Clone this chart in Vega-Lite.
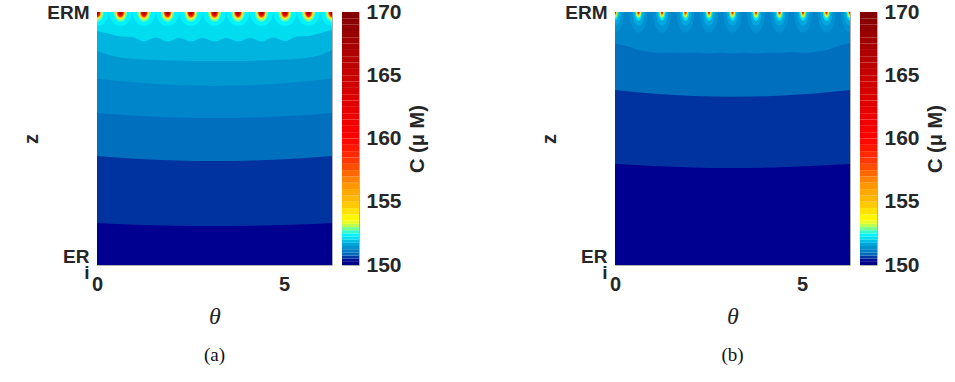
{
  "$schema": "https://vega.github.io/schema/vega-lite/v6.json",
  "background": "white",
  "padding": {"left": 21, "top": 0, "right": 5, "bottom": 5},
  "config": {
    "view": {"stroke": null},
    "font": "Liberation Sans",
    "axis": {"labelColor": "#262626", "titleColor": "#262626", "grid": false, "domain": false, "ticks": false, "tickSize": 0}
  },
  "datasets": {
    "bands": [
      {"panel": "a", "band": 1, "c": 150.3, "theta": 0, "lo": 0},
      {"panel": "a", "band": 1, "c": 150.3, "theta": 6.2832, "lo": 0},
      {"panel": "a", "band": 2, "c": 150.6, "theta": 0, "lo": 0.166},
      {"panel": "a", "band": 2, "c": 150.6, "theta": 1.0472, "lo": 0.159},
      {"panel": "a", "band": 2, "c": 150.6, "theta": 2.0944, "lo": 0.155},
      {"panel": "a", "band": 2, "c": 150.6, "theta": 3.1416, "lo": 0.154},
      {"panel": "a", "band": 2, "c": 150.6, "theta": 4.1888, "lo": 0.155},
      {"panel": "a", "band": 2, "c": 150.6, "theta": 5.236, "lo": 0.159},
      {"panel": "a", "band": 2, "c": 150.6, "theta": 6.2832, "lo": 0.166},
      {"panel": "a", "band": 3, "c": 150.9, "theta": 0, "lo": 0.431},
      {"panel": "a", "band": 3, "c": 150.9, "theta": 1.0472, "lo": 0.42},
      {"panel": "a", "band": 3, "c": 150.9, "theta": 2.0944, "lo": 0.413},
      {"panel": "a", "band": 3, "c": 150.9, "theta": 3.1416, "lo": 0.411},
      {"panel": "a", "band": 3, "c": 150.9, "theta": 4.1888, "lo": 0.413},
      {"panel": "a", "band": 3, "c": 150.9, "theta": 5.236, "lo": 0.42},
      {"panel": "a", "band": 3, "c": 150.9, "theta": 6.2832, "lo": 0.431},
      {"panel": "a", "band": 4, "c": 151.2, "theta": 0, "lo": 0.601},
      {"panel": "a", "band": 4, "c": 151.2, "theta": 1.0472, "lo": 0.59},
      {"panel": "a", "band": 4, "c": 151.2, "theta": 2.0944, "lo": 0.583},
      {"panel": "a", "band": 4, "c": 151.2, "theta": 3.1416, "lo": 0.581},
      {"panel": "a", "band": 4, "c": 151.2, "theta": 4.1888, "lo": 0.583},
      {"panel": "a", "band": 4, "c": 151.2, "theta": 5.236, "lo": 0.59},
      {"panel": "a", "band": 4, "c": 151.2, "theta": 6.2832, "lo": 0.601},
      {"panel": "a", "band": 5, "c": 151.5, "theta": 0, "lo": 0.737},
      {"panel": "a", "band": 5, "c": 151.5, "theta": 1.0472, "lo": 0.721},
      {"panel": "a", "band": 5, "c": 151.5, "theta": 2.0944, "lo": 0.711},
      {"panel": "a", "band": 5, "c": 151.5, "theta": 3.1416, "lo": 0.708},
      {"panel": "a", "band": 5, "c": 151.5, "theta": 4.1888, "lo": 0.711},
      {"panel": "a", "band": 5, "c": 151.5, "theta": 5.236, "lo": 0.721},
      {"panel": "a", "band": 5, "c": 151.5, "theta": 6.2832, "lo": 0.737},
      {"panel": "a", "band": 6, "c": 151.8, "theta": 0, "lo": 0.846},
      {"panel": "a", "band": 6, "c": 151.8, "theta": 0.3142, "lo": 0.83},
      {"panel": "a", "band": 6, "c": 151.8, "theta": 0.6283, "lo": 0.82},
      {"panel": "a", "band": 6, "c": 151.8, "theta": 1.2566, "lo": 0.812},
      {"panel": "a", "band": 6, "c": 151.8, "theta": 1.885, "lo": 0.808},
      {"panel": "a", "band": 6, "c": 151.8, "theta": 2.5133, "lo": 0.806},
      {"panel": "a", "band": 6, "c": 151.8, "theta": 3.1416, "lo": 0.806},
      {"panel": "a", "band": 6, "c": 151.8, "theta": 3.7699, "lo": 0.806},
      {"panel": "a", "band": 6, "c": 151.8, "theta": 4.3982, "lo": 0.808},
      {"panel": "a", "band": 6, "c": 151.8, "theta": 5.0265, "lo": 0.812},
      {"panel": "a", "band": 6, "c": 151.8, "theta": 5.6549, "lo": 0.82},
      {"panel": "a", "band": 6, "c": 151.8, "theta": 5.969, "lo": 0.83},
      {"panel": "a", "band": 6, "c": 151.8, "theta": 6.2832, "lo": 0.85},
      {"panel": "a", "band": 7, "c": 152.1, "theta": 0, "lo": 0.925},
      {"panel": "a", "band": 7, "c": 152.1, "theta": 0.3142, "lo": 0.915},
      {"panel": "a", "band": 7, "c": 152.1, "theta": 0.6283, "lo": 0.903},
      {"panel": "a", "band": 7, "c": 152.1, "theta": 0.9425, "lo": 0.901},
      {"panel": "a", "band": 7, "c": 152.1, "theta": 1.2566, "lo": 0.884},
      {"panel": "a", "band": 7, "c": 152.1, "theta": 1.5708, "lo": 0.899},
      {"panel": "a", "band": 7, "c": 152.1, "theta": 1.885, "lo": 0.883},
      {"panel": "a", "band": 7, "c": 152.1, "theta": 2.1991, "lo": 0.897},
      {"panel": "a", "band": 7, "c": 152.1, "theta": 2.5133, "lo": 0.883},
      {"panel": "a", "band": 7, "c": 152.1, "theta": 2.8274, "lo": 0.897},
      {"panel": "a", "band": 7, "c": 152.1, "theta": 3.1416, "lo": 0.883},
      {"panel": "a", "band": 7, "c": 152.1, "theta": 3.4558, "lo": 0.897},
      {"panel": "a", "band": 7, "c": 152.1, "theta": 3.7699, "lo": 0.883},
      {"panel": "a", "band": 7, "c": 152.1, "theta": 4.0841, "lo": 0.897},
      {"panel": "a", "band": 7, "c": 152.1, "theta": 4.3982, "lo": 0.883},
      {"panel": "a", "band": 7, "c": 152.1, "theta": 4.7124, "lo": 0.899},
      {"panel": "a", "band": 7, "c": 152.1, "theta": 5.0265, "lo": 0.885},
      {"panel": "a", "band": 7, "c": 152.1, "theta": 5.3407, "lo": 0.903},
      {"panel": "a", "band": 7, "c": 152.1, "theta": 5.6549, "lo": 0.905},
      {"panel": "a", "band": 7, "c": 152.1, "theta": 5.969, "lo": 0.917},
      {"panel": "a", "band": 7, "c": 152.1, "theta": 6.2832, "lo": 0.929},
      {"panel": "b", "band": 1, "c": 150.3, "theta": 0, "lo": 0},
      {"panel": "b", "band": 1, "c": 150.3, "theta": 6.2832, "lo": 0},
      {"panel": "b", "band": 2, "c": 150.6, "theta": 0, "lo": 0.399},
      {"panel": "b", "band": 2, "c": 150.6, "theta": 1.0472, "lo": 0.391},
      {"panel": "b", "band": 2, "c": 150.6, "theta": 2.0944, "lo": 0.385},
      {"panel": "b", "band": 2, "c": 150.6, "theta": 3.1416, "lo": 0.383},
      {"panel": "b", "band": 2, "c": 150.6, "theta": 4.1888, "lo": 0.385},
      {"panel": "b", "band": 2, "c": 150.6, "theta": 5.236, "lo": 0.391},
      {"panel": "b", "band": 2, "c": 150.6, "theta": 6.2832, "lo": 0.399},
      {"panel": "b", "band": 3, "c": 150.9, "theta": 0, "lo": 0.692},
      {"panel": "b", "band": 3, "c": 150.9, "theta": 1.0472, "lo": 0.677},
      {"panel": "b", "band": 3, "c": 150.9, "theta": 2.0944, "lo": 0.668},
      {"panel": "b", "band": 3, "c": 150.9, "theta": 3.1416, "lo": 0.665},
      {"panel": "b", "band": 3, "c": 150.9, "theta": 4.1888, "lo": 0.668},
      {"panel": "b", "band": 3, "c": 150.9, "theta": 5.236, "lo": 0.677},
      {"panel": "b", "band": 3, "c": 150.9, "theta": 6.2832, "lo": 0.692},
      {"panel": "b", "band": 4, "c": 151.2, "theta": 0, "lo": 0.875},
      {"panel": "b", "band": 4, "c": 151.2, "theta": 0.3142, "lo": 0.866},
      {"panel": "b", "band": 4, "c": 151.2, "theta": 0.6283, "lo": 0.85},
      {"panel": "b", "band": 4, "c": 151.2, "theta": 0.9425, "lo": 0.842},
      {"panel": "b", "band": 4, "c": 151.2, "theta": 1.2566, "lo": 0.838},
      {"panel": "b", "band": 4, "c": 151.2, "theta": 1.5708, "lo": 0.84},
      {"panel": "b", "band": 4, "c": 151.2, "theta": 1.885, "lo": 0.838},
      {"panel": "b", "band": 4, "c": 151.2, "theta": 2.1991, "lo": 0.84},
      {"panel": "b", "band": 4, "c": 151.2, "theta": 2.5133, "lo": 0.836},
      {"panel": "b", "band": 4, "c": 151.2, "theta": 2.8274, "lo": 0.84},
      {"panel": "b", "band": 4, "c": 151.2, "theta": 3.1416, "lo": 0.836},
      {"panel": "b", "band": 4, "c": 151.2, "theta": 3.4558, "lo": 0.84},
      {"panel": "b", "band": 4, "c": 151.2, "theta": 3.7699, "lo": 0.836},
      {"panel": "b", "band": 4, "c": 151.2, "theta": 4.0841, "lo": 0.84},
      {"panel": "b", "band": 4, "c": 151.2, "theta": 4.3982, "lo": 0.838},
      {"panel": "b", "band": 4, "c": 151.2, "theta": 4.7124, "lo": 0.842},
      {"panel": "b", "band": 4, "c": 151.2, "theta": 5.0265, "lo": 0.838},
      {"panel": "b", "band": 4, "c": 151.2, "theta": 5.3407, "lo": 0.842},
      {"panel": "b", "band": 4, "c": 151.2, "theta": 5.6549, "lo": 0.85},
      {"panel": "b", "band": 4, "c": 151.2, "theta": 5.969, "lo": 0.866},
      {"panel": "b", "band": 4, "c": 151.2, "theta": 6.2832, "lo": 0.877}
    ],
    "spots": [
      {"panel": "a", "theta": 0, "z": 1}, {"panel": "a", "theta": 0.6283, "z": 1}, {"panel": "a", "theta": 1.2566, "z": 1},
      {"panel": "a", "theta": 1.885, "z": 1}, {"panel": "a", "theta": 2.5133, "z": 1}, {"panel": "a", "theta": 3.1416, "z": 1},
      {"panel": "a", "theta": 3.7699, "z": 1}, {"panel": "a", "theta": 4.3982, "z": 1}, {"panel": "a", "theta": 5.0265, "z": 1},
      {"panel": "a", "theta": 5.6549, "z": 1}, {"panel": "a", "theta": 6.2832, "z": 1},
      {"panel": "b", "theta": 0, "z": 1}, {"panel": "b", "theta": 0.6283, "z": 1}, {"panel": "b", "theta": 1.2566, "z": 1},
      {"panel": "b", "theta": 1.885, "z": 1}, {"panel": "b", "theta": 2.5133, "z": 1}, {"panel": "b", "theta": 3.1416, "z": 1},
      {"panel": "b", "theta": 3.7699, "z": 1}, {"panel": "b", "theta": 4.3982, "z": 1}, {"panel": "b", "theta": 5.0265, "z": 1},
      {"panel": "b", "theta": 5.6549, "z": 1}, {"panel": "b", "theta": 6.2832, "z": 1}
    ],
    "cbar": [
      {"lo": 150, "hi": 150.25, "c": 150.125}, {"lo": 150.25, "hi": 150.5, "c": 150.375},
      {"lo": 150.5, "hi": 150.75, "c": 150.625}, {"lo": 150.75, "hi": 151, "c": 150.875},
      {"lo": 151, "hi": 151.25, "c": 151.125}, {"lo": 151.25, "hi": 151.5, "c": 151.375},
      {"lo": 151.5, "hi": 151.75, "c": 151.625}, {"lo": 151.75, "hi": 152, "c": 151.875},
      {"lo": 152, "hi": 152.25, "c": 152.125}, {"lo": 152.25, "hi": 152.5, "c": 152.375},
      {"lo": 152.5, "hi": 152.75, "c": 152.625}, {"lo": 152.75, "hi": 153, "c": 152.875},
      {"lo": 153, "hi": 153.25, "c": 153.125}, {"lo": 153.25, "hi": 153.5, "c": 153.375},
      {"lo": 153.5, "hi": 154, "c": 153.75}, {"lo": 154, "hi": 154.5, "c": 154.25},
      {"lo": 154.5, "hi": 155, "c": 154.75}, {"lo": 155, "hi": 155.5, "c": 155.25},
      {"lo": 155.5, "hi": 156, "c": 155.75}, {"lo": 156, "hi": 156.5, "c": 156.25},
      {"lo": 156.5, "hi": 157, "c": 156.75}, {"lo": 157, "hi": 157.5, "c": 157.25},
      {"lo": 157.5, "hi": 158, "c": 157.75}, {"lo": 158, "hi": 158.5, "c": 158.25},
      {"lo": 158.5, "hi": 159, "c": 158.75}, {"lo": 159, "hi": 159.5, "c": 159.25},
      {"lo": 159.5, "hi": 160, "c": 159.75}, {"lo": 160, "hi": 160.5, "c": 160.25},
      {"lo": 160.5, "hi": 161, "c": 160.75}, {"lo": 161, "hi": 161.5, "c": 161.25},
      {"lo": 161.5, "hi": 162, "c": 161.75}, {"lo": 162, "hi": 162.5, "c": 162.25},
      {"lo": 162.5, "hi": 163, "c": 162.75}, {"lo": 163, "hi": 163.5, "c": 163.25},
      {"lo": 163.5, "hi": 164, "c": 163.75}, {"lo": 164, "hi": 164.5, "c": 164.25},
      {"lo": 164.5, "hi": 165, "c": 164.75}, {"lo": 165, "hi": 165.5, "c": 165.25},
      {"lo": 165.5, "hi": 166, "c": 165.75}, {"lo": 166, "hi": 166.5, "c": 166.25},
      {"lo": 166.5, "hi": 167, "c": 166.75}, {"lo": 167, "hi": 167.5, "c": 167.25},
      {"lo": 167.5, "hi": 168, "c": 167.75}, {"lo": 168, "hi": 168.5, "c": 168.25},
      {"lo": 168.5, "hi": 169, "c": 168.75}, {"lo": 169, "hi": 169.5, "c": 169.25},
      {"lo": 169.5, "hi": 170, "c": 169.75}
    ]
  },
  "hconcat": [
    {
      "hconcat": [
        {
          "width": 235, "height": 253,
          "view": {"stroke": "#B0B0B0", "strokeWidth": 1},
          "title": {"text": "(a)", "orient": "bottom", "anchor": "middle", "font": "Liberation Serif", "fontSize": 19, "fontWeight": "normal", "color": "#111111", "offset": 18},
          "layer": [
            {
              "data": {"name": "bands"},
              "transform": [{"filter": "datum.panel == 'a'"}],
              "mark": {"type": "area", "interpolate": "monotone", "clip": true, "opacity": 1},
              "encoding": {
                "x": {"field": "theta", "type": "quantitative", "scale": {"domain": [0, 6.2832], "nice": false, "zero": false},
                  "axis": {"values": [0, 5], "title": "θ", "titleFont": "Liberation Serif", "titleFontStyle": "italic", "titleFontWeight": "normal", "titleFontSize": 24, "labelFont": "Liberation Sans", "labelFontWeight": "bold", "labelFontSize": 20, "labelPadding": 9, "titlePadding": 10, "labelFlush": false, "labelOverlap": false}},
                "y": {"field": "lo", "type": "quantitative", "stack": null, "scale": {"domain": [0, 1], "nice": false, "zero": false},
                  "axis": {"values": [0, 1], "labelExpr": "datum.value == 1 ? 'ERM' : ['ER\u00a0', 'i']", "labelLineHeight": 16, "labelOffset": {"condition": {"test": "datum.value == 0", "value": -9}, "value": 0}, "title": "z", "titleFontWeight": "bold", "titleFontSize": 20, "labelFont": "Liberation Sans", "labelFontWeight": "bold", "labelFontSize": 19, "labelPadding": 8, "titlePadding": 5, "labelFlush": false, "labelOverlap": false, "labelBound": false}},
                "y2": {"datum": 1},
                "detail": {"field": "band"},
                "color": {"field": "c", "type": "quantitative", "legend": null,
                  "scale": {"type": "linear", "clamp": true, "interpolate": "rgb",
                    "domain": [150, 150.3, 150.6, 150.9, 151.2, 151.5, 151.8, 152.1, 152.4, 152.8, 153.2, 153.6, 155, 156.5, 158, 160, 165, 170],
                    "range": ["#000080", "#000090", "#0033A0", "#0070BE", "#0084CA", "#0098D0", "#00B4E0", "#00DDF0", "#00F4FF", "#60FFA0", "#D0FF40", "#FFFF00", "#FFC000", "#FF9000", "#FF4000", "#FF0000", "#C80000", "#800000"]}}
              }
            },
            {
              "data": {"name": "spots"}, "transform": [{"filter": "datum.panel == 'a'"}],
              "mark": {"type": "point", "shape": "M0,-1.2C0.552,-1.2 1,-0.663 1,0C1,0.663 0.552,1.2 0,1.2C-0.552,1.2 -1,0.663 -1,0C-1,-0.663 -0.552,-1.2 0,-1.2Z", "size": 529, "filled": true, "opacity": 1, "strokeWidth": 0, "color": "#00F4FF", "clip": true},
              "encoding": {"x": {"field": "theta", "type": "quantitative"}, "y": {"field": "z", "type": "quantitative"}}
            },
            {
              "data": {"name": "spots"}, "transform": [{"filter": "datum.panel == 'a'"}],
              "mark": {"type": "point", "shape": "M0,-1.5C0.552,-1.5 1,-0.828 1,0C1,0.828 0.552,1.5 0,1.5C-0.552,1.5 -1,0.828 -1,0C-1,-0.828 -0.552,-1.5 0,-1.5Z", "size": 169, "filled": true, "opacity": 1, "strokeWidth": 0, "color": "#70FFA0", "clip": true},
              "encoding": {"x": {"field": "theta", "type": "quantitative"}, "y": {"field": "z", "type": "quantitative"}}
            },
            {
              "data": {"name": "spots"}, "transform": [{"filter": "datum.panel == 'a'"}],
              "mark": {"type": "point", "shape": "M0,-1.5C0.552,-1.5 1,-0.828 1,0C1,0.828 0.552,1.5 0,1.5C-0.552,1.5 -1,0.828 -1,0C-1,-0.828 -0.552,-1.5 0,-1.5Z", "size": 100, "filled": true, "opacity": 1, "strokeWidth": 0, "color": "#FFF020", "clip": true},
              "encoding": {"x": {"field": "theta", "type": "quantitative"}, "y": {"field": "z", "type": "quantitative"}}
            },
            {
              "data": {"name": "spots"}, "transform": [{"filter": "datum.panel == 'a'"}],
              "mark": {"type": "point", "shape": "M0,-1.5C0.552,-1.5 1,-0.828 1,0C1,0.828 0.552,1.5 0,1.5C-0.552,1.5 -1,0.828 -1,0C-1,-0.828 -0.552,-1.5 0,-1.5Z", "size": 64, "filled": true, "opacity": 1, "strokeWidth": 0, "color": "#FF9000", "clip": true},
              "encoding": {"x": {"field": "theta", "type": "quantitative"}, "y": {"field": "z", "type": "quantitative"}}
            },
            {
              "data": {"name": "spots"}, "transform": [{"filter": "datum.panel == 'a'"}],
              "mark": {"type": "point", "shape": "M0,-1.5C0.552,-1.5 1,-0.828 1,0C1,0.828 0.552,1.5 0,1.5C-0.552,1.5 -1,0.828 -1,0C-1,-0.828 -0.552,-1.5 0,-1.5Z", "size": 41, "filled": true, "opacity": 1, "strokeWidth": 0, "color": "#F01000", "clip": true},
              "encoding": {"x": {"field": "theta", "type": "quantitative"}, "y": {"field": "z", "type": "quantitative"}}
            },
            {
              "data": {"name": "spots"}, "transform": [{"filter": "datum.panel == 'a'"}],
              "mark": {"type": "point", "shape": "M0,-1.5C0.552,-1.5 1,-0.828 1,0C1,0.828 0.552,1.5 0,1.5C-0.552,1.5 -1,0.828 -1,0C-1,-0.828 -0.552,-1.5 0,-1.5Z", "size": 13, "filled": true, "opacity": 1, "strokeWidth": 0, "color": "#A00000", "clip": true},
              "encoding": {"x": {"field": "theta", "type": "quantitative"}, "y": {"field": "z", "type": "quantitative"}}
            }
          ]
        },
        {
          "width": 17, "height": 253,
          "view": {"stroke": "#B0B0B0", "strokeWidth": 1},
          "data": {"name": "cbar"},
          "mark": {"type": "rect", "strokeWidth": 0},
          "encoding": {
            "x": {"datum": 0, "type": "quantitative", "scale": {"domain": [0, 1], "nice": false, "zero": false}, "axis": null},
            "x2": {"datum": 1},
            "y": {"field": "lo", "type": "quantitative", "scale": {"domain": [150, 170], "nice": false, "zero": false},
              "axis": {"orient": "right", "values": [150, 155, 160, 165, 170], "title": "C (μ M)", "titleAngle": 270, "titleBaseline": "top", "titleFontWeight": "bold", "titleFontSize": 20, "labelFont": "Liberation Sans", "labelFontWeight": "bold", "labelFontSize": 21, "labelPadding": 7, "titlePadding": 6, "labelFlush": false, "labelOverlap": false, "labelBound": false}},
            "y2": {"field": "hi"},
            "color": {"field": "c", "type": "quantitative", "legend": null,
              "scale": {"type": "linear", "clamp": true, "interpolate": "rgb",
                "domain": [150, 150.3, 150.6, 150.9, 151.2, 151.5, 151.8, 152.1, 152.4, 152.8, 153.2, 153.6, 155, 156.5, 158, 160, 165, 170],
                "range": ["#000080", "#000090", "#0033A0", "#0070BE", "#0084CA", "#0098D0", "#00B4E0", "#00DDF0", "#00F4FF", "#60FFA0", "#D0FF40", "#FFFF00", "#FFC000", "#FF9000", "#FF4000", "#FF0000", "#C80000", "#800000"]}}
          }
        }
      ],
      "spacing": 8,
      "resolve": {"scale": {"x": "independent", "y": "independent", "color": "independent"}}
    },
    {
      "hconcat": [
        {
          "width": 235, "height": 253,
          "view": {"stroke": "#B0B0B0", "strokeWidth": 1},
          "title": {"text": "(b)", "orient": "bottom", "anchor": "middle", "font": "Liberation Serif", "fontSize": 19, "fontWeight": "normal", "color": "#111111", "offset": 18},
          "layer": [
            {
              "data": {"name": "bands"},
              "transform": [{"filter": "datum.panel == 'b'"}],
              "mark": {"type": "area", "interpolate": "monotone", "clip": true, "opacity": 1},
              "encoding": {
                "x": {"field": "theta", "type": "quantitative", "scale": {"domain": [0, 6.2832], "nice": false, "zero": false},
                  "axis": {"values": [0, 5], "title": "θ", "titleFont": "Liberation Serif", "titleFontStyle": "italic", "titleFontWeight": "normal", "titleFontSize": 24, "labelFont": "Liberation Sans", "labelFontWeight": "bold", "labelFontSize": 20, "labelPadding": 9, "titlePadding": 10, "labelFlush": false, "labelOverlap": false}},
                "y": {"field": "lo", "type": "quantitative", "stack": null, "scale": {"domain": [0, 1], "nice": false, "zero": false},
                  "axis": {"values": [0, 1], "labelExpr": "datum.value == 1 ? 'ERM' : ['ER\u00a0', 'i']", "labelLineHeight": 16, "labelOffset": {"condition": {"test": "datum.value == 0", "value": -9}, "value": 0}, "title": "z", "titleFontWeight": "bold", "titleFontSize": 20, "labelFont": "Liberation Sans", "labelFontWeight": "bold", "labelFontSize": 19, "labelPadding": 8, "titlePadding": 5, "labelFlush": false, "labelOverlap": false, "labelBound": false}},
                "y2": {"datum": 1},
                "detail": {"field": "band"},
                "color": {"field": "c", "type": "quantitative", "legend": null,
                  "scale": {"type": "linear", "clamp": true, "interpolate": "rgb",
                    "domain": [150, 150.3, 150.6, 150.9, 151.2, 151.5, 151.8, 152.1, 152.4, 152.8, 153.2, 153.6, 155, 156.5, 158, 160, 165, 170],
                    "range": ["#000080", "#000090", "#0033A0", "#0070BE", "#0084CA", "#0098D0", "#00B4E0", "#00DDF0", "#00F4FF", "#60FFA0", "#D0FF40", "#FFFF00", "#FFC000", "#FF9000", "#FF4000", "#FF0000", "#C80000", "#800000"]}}
              }
            },
            {
              "data": {"name": "spots"}, "transform": [{"filter": "datum.panel == 'b'"}],
              "mark": {"type": "point", "shape": "M0,-2.3C0.552,-2.3 1,-1.27 1,0C1,1.27 0.552,2.3 0,2.3C-0.552,2.3 -1,1.27 -1,0C-1,-1.27 -0.552,-2.3 0,-2.3Z", "size": 324, "filled": true, "opacity": 1, "strokeWidth": 0, "color": "#0092D2", "clip": true},
              "encoding": {"x": {"field": "theta", "type": "quantitative"}, "y": {"field": "z", "type": "quantitative"}}
            },
            {
              "data": {"name": "spots"}, "transform": [{"filter": "datum.panel == 'b'"}],
              "mark": {"type": "point", "shape": "M0,-2.3C0.552,-2.3 1,-1.27 1,0C1,1.27 0.552,2.3 0,2.3C-0.552,2.3 -1,1.27 -1,0C-1,-1.27 -0.552,-2.3 0,-2.3Z", "size": 144, "filled": true, "opacity": 1, "strokeWidth": 0, "color": "#00A8DE", "clip": true},
              "encoding": {"x": {"field": "theta", "type": "quantitative"}, "y": {"field": "z", "type": "quantitative"}}
            },
            {
              "data": {"name": "spots"}, "transform": [{"filter": "datum.panel == 'b'"}],
              "mark": {"type": "point", "shape": "M0,-2.3C0.552,-2.3 1,-1.27 1,0C1,1.27 0.552,2.3 0,2.3C-0.552,2.3 -1,1.27 -1,0C-1,-1.27 -0.552,-2.3 0,-2.3Z", "size": 58, "filled": true, "opacity": 1, "strokeWidth": 0, "color": "#00E0F4", "clip": true},
              "encoding": {"x": {"field": "theta", "type": "quantitative"}, "y": {"field": "z", "type": "quantitative"}}
            },
            {
              "data": {"name": "spots"}, "transform": [{"filter": "datum.panel == 'b'"}],
              "mark": {"type": "point", "shape": "M0,-2.3C0.552,-2.3 1,-1.27 1,0C1,1.27 0.552,2.3 0,2.3C-0.552,2.3 -1,1.27 -1,0C-1,-1.27 -0.552,-2.3 0,-2.3Z", "size": 27, "filled": true, "opacity": 1, "strokeWidth": 0, "color": "#B0FF50", "clip": true},
              "encoding": {"x": {"field": "theta", "type": "quantitative"}, "y": {"field": "z", "type": "quantitative"}}
            },
            {
              "data": {"name": "spots"}, "transform": [{"filter": "datum.panel == 'b'"}],
              "mark": {"type": "point", "shape": "M0,-2.3C0.552,-2.3 1,-1.27 1,0C1,1.27 0.552,2.3 0,2.3C-0.552,2.3 -1,1.27 -1,0C-1,-1.27 -0.552,-2.3 0,-2.3Z", "size": 13, "filled": true, "opacity": 1, "strokeWidth": 0, "color": "#FFD000", "clip": true},
              "encoding": {"x": {"field": "theta", "type": "quantitative"}, "y": {"field": "z", "type": "quantitative"}}
            },
            {
              "data": {"name": "spots"}, "transform": [{"filter": "datum.panel == 'b'"}],
              "mark": {"type": "point", "shape": "M0,-2.3C0.552,-2.3 1,-1.27 1,0C1,1.27 0.552,2.3 0,2.3C-0.552,2.3 -1,1.27 -1,0C-1,-1.27 -0.552,-2.3 0,-2.3Z", "size": 5, "filled": true, "opacity": 1, "strokeWidth": 0, "color": "#FF2000", "clip": true},
              "encoding": {"x": {"field": "theta", "type": "quantitative"}, "y": {"field": "z", "type": "quantitative"}}
            }
          ]
        },
        {
          "width": 17, "height": 253,
          "view": {"stroke": "#B0B0B0", "strokeWidth": 1},
          "data": {"name": "cbar"},
          "mark": {"type": "rect", "strokeWidth": 0},
          "encoding": {
            "x": {"datum": 0, "type": "quantitative", "scale": {"domain": [0, 1], "nice": false, "zero": false}, "axis": null},
            "x2": {"datum": 1},
            "y": {"field": "lo", "type": "quantitative", "scale": {"domain": [150, 170], "nice": false, "zero": false},
              "axis": {"orient": "right", "values": [150, 155, 160, 165, 170], "title": "C (μ M)", "titleAngle": 270, "titleBaseline": "top", "titleFontWeight": "bold", "titleFontSize": 20, "labelFont": "Liberation Sans", "labelFontWeight": "bold", "labelFontSize": 21, "labelPadding": 7, "titlePadding": 6, "labelFlush": false, "labelOverlap": false, "labelBound": false}},
            "y2": {"field": "hi"},
            "color": {"field": "c", "type": "quantitative", "legend": null,
              "scale": {"type": "linear", "clamp": true, "interpolate": "rgb",
                "domain": [150, 150.3, 150.6, 150.9, 151.2, 151.5, 151.8, 152.1, 152.4, 152.8, 153.2, 153.6, 155, 156.5, 158, 160, 165, 170],
                "range": ["#000080", "#000090", "#0033A0", "#0070BE", "#0084CA", "#0098D0", "#00B4E0", "#00DDF0", "#00F4FF", "#60FFA0", "#D0FF40", "#FFFF00", "#FFC000", "#FF9000", "#FF4000", "#FF0000", "#C80000", "#800000"]}}
          }
        }
      ],
      "spacing": 8,
      "resolve": {"scale": {"x": "independent", "y": "independent", "color": "independent"}}
    }
  ],
  "spacing": 111,
  "resolve": {"scale": {"x": "independent", "y": "independent", "color": "independent"}}
}
